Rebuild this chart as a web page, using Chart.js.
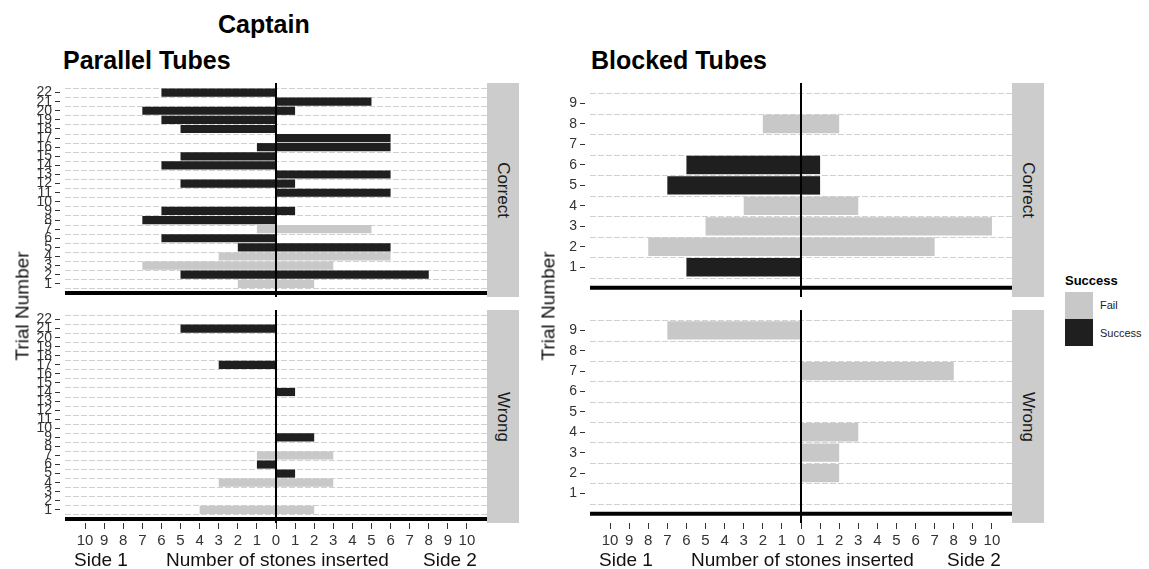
<!DOCTYPE html>
<html>
<head>
<meta charset="utf-8">
<script src="https://cdn.jsdelivr.net/npm/chart.js@4.4.1/dist/chart.umd.min.js"></script>
<style>
  html, body { margin: 0; padding: 0; background: #fff; }
  body { width: 1149px; height: 569px; position: relative; overflow: hidden;
         font-family: 'Liberation Sans', Arial, Helvetica, sans-serif; color: #000; }
  canvas { position: absolute; }
  .txt { position: absolute; white-space: nowrap; line-height: 1; }
  .title { font-weight: bold; font-size: 25px; }
  .xtitle { font-size: 19px; color: #111; }
  .ytitle { font-size: 19px; color: #111; transform: translate(-50%, -50%) rotate(-90deg); }
  .strip { position: absolute; background: #cccccc; width: 32px; }
  .strip span { position: absolute; left: 50%; top: 50%; white-space: nowrap; line-height: 1;
                transform: translate(-50%, -50%) rotate(90deg); font-size: 17px; color: #1a1a1a; }
  .key { position: absolute; width: 28px; height: 27px; }
</style>
</head>
<body>

<div class="txt title" style="left:218px; top:12px;">Captain</div>
<div class="txt title" style="left:63px; top:48px;">Parallel Tubes</div>
<div class="txt title" style="left:591px; top:48px;">Blocked Tubes</div>

<canvas id="pc" width="487" height="214" style="left:0; top:83px;"></canvas>
<canvas id="pw" width="487" height="245" style="left:0; top:310px;"></canvas>
<canvas id="bc" width="482" height="214" style="left:530px; top:83px;"></canvas>
<canvas id="bw" width="482" height="245" style="left:530px; top:310px;"></canvas>

<div class="strip" style="left:487px; top:83px; height:214px;"><span>Correct</span></div>
<div class="strip" style="left:487px; top:310px; height:213px;"><span>Wrong</span></div>
<div class="strip" style="left:1012px; top:83px; height:214px;"><span>Correct</span></div>
<div class="strip" style="left:1012px; top:310px; height:213px;"><span>Wrong</span></div>

<div class="txt ytitle" style="left:22px; top:306px;">Trial Number</div>
<div class="txt ytitle" style="left:548px; top:306px;">Trial Number</div>

<div class="txt xtitle" style="left:74px; top:550px;">Side 1</div>
<div class="txt xtitle" style="left:166px; top:550px;">Number of stones inserted</div>
<div class="txt xtitle" style="left:423px; top:550px;">Side 2</div>
<div class="txt xtitle" style="left:599px; top:550px;">Side 1</div>
<div class="txt xtitle" style="left:691px; top:550px;">Number of stones inserted</div>
<div class="txt xtitle" style="left:947px; top:550px;">Side 2</div>

<div class="txt" style="left:1065px; top:274px; font-size:13px; font-weight:bold;">Success</div>
<div class="key" style="left:1065px; top:292px; background:#c8c8c8;"></div>
<div class="key" style="left:1065px; top:319px; background:#1f1f1f;"></div>
<div class="txt" style="left:1100px; top:300px; font-size:11px; color:#222;">Fail</div>
<div class="txt" style="left:1100px; top:328px; font-size:11px; color:#222;">Success</div>

<script>
// trial numbers
const parallelTrials = [1, 2, 3, 4, 5, 6, 7, 8, 9, 10, 11, 12, 13, 14, 15, 16, 17, 18, 19, 20, 21, 22];
const blockedTrials = [1, 2, 3, 4, 5, 6, 7, 8, 9];

// stones inserted on each side, per trial
const parallelCorrectSide1 = [2, 5, 7, 3, 2, 6, 1, 7, 6, 0, 0, 5, 0, 6, 5, 1, 0, 5, 6, 7, 0, 6];
const parallelCorrectSide2 = [2, 8, 3, 6, 6, 0, 5, 0, 1, 0, 6, 1, 6, 0, 0, 6, 6, 0, 0, 1, 5, 0];
const parallelCorrectResult = ['Fail', 'Success', 'Fail', 'Fail', 'Success', 'Success', 'Fail', 'Success', 'Success', null, 'Success',
  'Success', 'Success', 'Success', 'Success', 'Success', 'Success', 'Success', 'Success', 'Success', 'Success', 'Success'];

const parallelWrongSide1 = [4, 0, 0, 3, 0, 1, 1, 0, 0, 0, 0, 0, 0, 0, 0, 0, 3, 0, 0, 0, 5, 0];
const parallelWrongSide2 = [2, 0, 0, 3, 1, 0, 3, 0, 2, 0, 0, 0, 0, 1, 0, 0, 0, 0, 0, 0, 0, 0];
const parallelWrongResult = ['Fail', null, null, 'Fail', 'Success', 'Success', 'Fail', null, 'Success', null, null,
  null, null, 'Success', null, null, 'Success', null, null, null, 'Success', null];

const blockedCorrectSide1 = [6, 8, 5, 3, 7, 6, 0, 2, 0];
const blockedCorrectSide2 = [0, 7, 10, 3, 1, 1, 0, 2, 0];
const blockedCorrectResult = ['Success', 'Fail', 'Fail', 'Fail', 'Success', 'Success', null, 'Fail', null];

const blockedWrongSide1 = [0, 0, 0, 0, 0, 0, 0, 0, 7];
const blockedWrongSide2 = [0, 2, 2, 3, 0, 0, 8, 0, 0];
const blockedWrongResult = [null, 'Fail', 'Fail', 'Fail', null, null, 'Fail', null, 'Fail'];

const stoneTicks = [-10, -9, -8, -7, -6, -5, -4, -3, -2, -1, 0, 1, 2, 3, 4, 5, 6, 7, 8, 9, 10];

const failColor = '#c8c8c8';
const successColor = '#1f1f1f';

Chart.defaults.font.family = "'Liberation Sans', Arial, Helvetica, sans-serif";
Chart.defaults.color = '#333';

// dashed lines between trials, the zero line and the heavy base line
const panelLines = {
  id: 'panelLines',
  beforeDatasetsDraw(chart) {
    const {ctx, chartArea, scales: {y}} = chart;
    ctx.save();
    ctx.strokeStyle = '#d0d0d0';
    ctx.lineWidth = 1;
    ctx.setLineDash([6, 2]);
    chart.options.plugins.panelLines.between.forEach(v => {
      const py = Math.round(y.getPixelForValue(v)) + 0.5;
      ctx.beginPath();
      ctx.moveTo(chartArea.left, py);
      ctx.lineTo(chartArea.right, py);
      ctx.stroke();
    });
    ctx.restore();
  },
  afterDatasetsDraw(chart) {
    const {ctx, chartArea, scales: {x, y}} = chart;
    ctx.save();
    ctx.strokeStyle = '#000';
    ctx.lineWidth = 2;
    const px = x.getPixelForValue(0);
    ctx.beginPath();
    ctx.moveTo(px, chartArea.top);
    ctx.lineTo(px, chartArea.bottom);
    ctx.stroke();
    ctx.lineWidth = 4;
    const py = y.getPixelForValue(0);
    ctx.beginPath();
    ctx.moveTo(chartArea.left, py);
    ctx.lineTo(chartArea.right, py);
    ctx.stroke();
    ctx.restore();
  }
};

function makePanel(id, trials, side1, side2, result, yMax, axisWidth, showX) {
  const colors = result.map(r => r === 'Success' ? successColor : failColor);
  const between = trials.map(t => t - 0.5).concat(trials[trials.length - 1] + 0.5);

  new Chart(document.getElementById(id), {
    type: 'bar',
    data: {
      datasets: [
        {label: 'Side 1', data: trials.map((t, i) => ({x: -side1[i], y: t})), backgroundColor: colors},
        {label: 'Side 2', data: trials.map((t, i) => ({x: side2[i], y: t})), backgroundColor: colors}
      ]
    },
    options: {
      indexAxis: 'y',
      responsive: false,
      animation: false,
      layout: {padding: 0},
      datasets: {bar: {barPercentage: 0.9, categoryPercentage: 1, borderWidth: 0}},
      plugins: {
        legend: {display: false},
        tooltip: {enabled: false},
        panelLines: {between: between}
      },
      scales: {
        x: {
          type: 'linear',
          stacked: true,
          min: -11.05,
          max: 11.05,
          display: showX,
          offset: false,
          border: {display: false},
          grid: {drawOnChartArea: false, offset: false, tickLength: 6, tickColor: '#333'},
          ticks: {
            autoSkip: false, maxRotation: 0, padding: 3,
            font: {size: 15}, color: '#333',
            callback: v => String(Math.abs(v))
          },
          afterBuildTicks: s => { s.ticks = stoneTicks.map(v => ({value: v})); },
          afterFit: s => { s.height = showX ? 32 : 0; s.paddingLeft = 0; s.paddingRight = 0; }
        },
        y: {
          type: 'linear',
          stacked: true,
          min: -0.45,
          max: yMax,
          offset: false,
          border: {display: false},
          grid: {drawOnChartArea: false, offset: false, tickLength: 10, tickBorderDash: [5, 5], tickColor: '#333'},
          ticks: {autoSkip: false, padding: 3, font: {size: 14}, color: '#333'},
          afterBuildTicks: s => { s.ticks = trials.map(v => ({value: v})); },
          afterFit: s => { s.width = axisWidth; s.paddingTop = 0; s.paddingBottom = 0; }
        }
      }
    },
    plugins: [panelLines]
  });
}

makePanel('pc', parallelTrials, parallelCorrectSide1, parallelCorrectSide2, parallelCorrectResult, 23.05, 65, false);
makePanel('pw', parallelTrials, parallelWrongSide1, parallelWrongSide2, parallelWrongResult, 23.05, 65, true);
makePanel('bc', blockedTrials, blockedCorrectSide1, blockedCorrectSide2, blockedCorrectResult, 10, 60, false);
makePanel('bw', blockedTrials, blockedWrongSide1, blockedWrongSide2, blockedWrongResult, 10, 60, true);
</script>
</body>
</html>
